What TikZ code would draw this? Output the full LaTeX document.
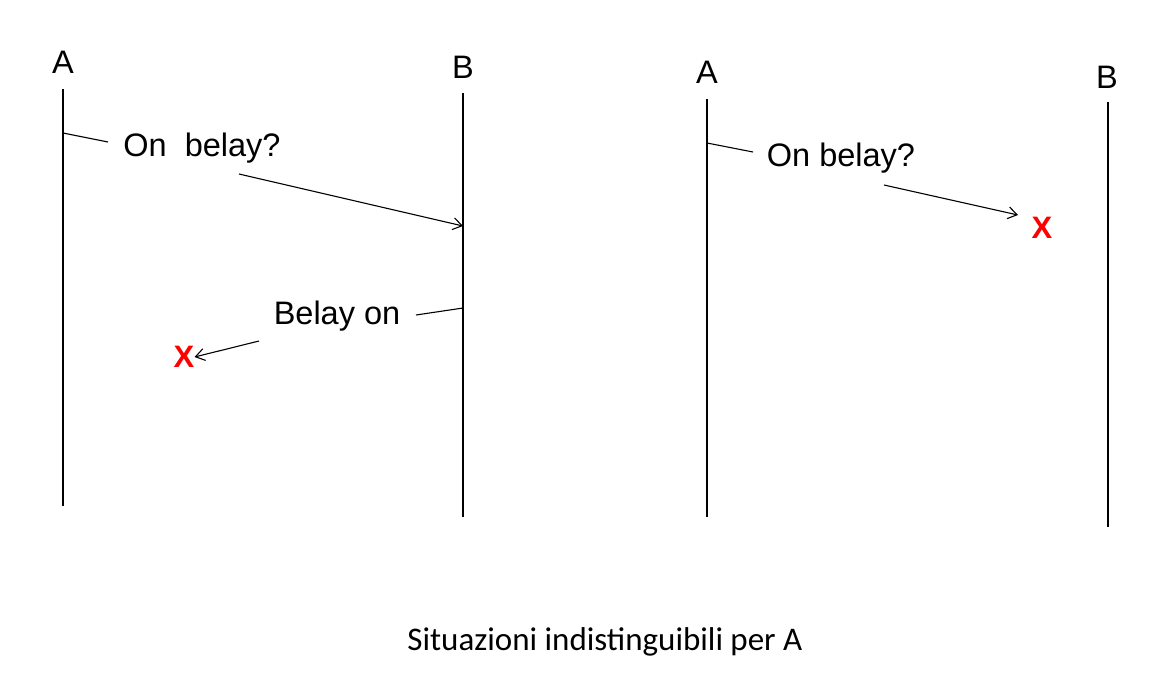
\documentclass[tikz,border=0pt]{standalone}
\usepackage{fontspec}
\setmainfont{Liberation Sans}
\newfontfamily\capfont{Carlito}
\usetikzlibrary{arrows.meta}
\begin{document}
\begin{tikzpicture}[x=1pt,y=-1pt,
  lbl/.style={inner sep=0pt,font=\fontsize{32.5}{36}\selectfont},
  msg/.style={inner sep=0pt,font=\fontsize{32.5}{36}\selectfont},
  lost/.style={inner sep=0pt,text=red,font=\fontsize{31}{34}\selectfont\bfseries},
  life/.style={line width=1.3pt},
  seg/.style={line width=1.1pt},
  arr/.style={line width=1.1pt,-{Straight Barb[length=9pt,width=12pt,line width=1.1pt]}}]
\useasboundingbox[fill=white] (0,0) rectangle (1153,681);
% left scenario
\node[lbl] (A1) at (63,62) {A};
\node[lbl] (B1) at (463,67) {B};
\coordinate (A1t) at (63,89); \coordinate (A1b) at (63,506);
\coordinate (B1t) at (463,93); \coordinate (B1b) at (463,517);
\draw[life] (A1t) -- (A1b);
\draw[life] (B1t) -- (B1b);
\node[msg] (m1) at (202,148) {On\ \ belay?};
\coordinate (s1) at (63,133); \coordinate (e1) at (108,142);
\draw[seg] (s1) -- (e1);
\coordinate (p1) at (239,174); \coordinate (q1) at (463,226);
\draw[arr] (p1) -- (q1);
\node[msg] (m2) at (337,316) {Belay on};
\coordinate (s2) at (463,308); \coordinate (e2) at (416,315);
\draw[seg] (s2) -- (e2);
\node[lost] (x1) at (184,357) {X};
\coordinate (p2) at (259,341);
\draw[arr] (p2) -- (x1.east);
% right scenario
\node[lbl] (A2) at (707,72) {A};
\node[lbl] (B2) at (1107,77) {B};
\coordinate (A2t) at (707,99); \coordinate (A2b) at (707,517);
\coordinate (B2t) at (1108,102); \coordinate (B2b) at (1108,527);
\draw[life] (A2t) -- (A2b);
\draw[life] (B2t) -- (B2b);
\node[msg] (m3) at (841,158) {On belay?};
\coordinate (s3) at (707,143); \coordinate (e3) at (753,152);
\draw[seg] (s3) -- (e3);
\node[lost] (x2) at (1042,228) {X};
\coordinate (p3) at (884,185); \coordinate (q3) at (1018,215);
\draw[arr] (p3) -- (q3);
% caption
\node[inner sep=0pt,font=\capfont\fontsize{33}{36}\selectfont] (cap) at (605,642) {Situazioni indistinguibili per A};
\end{tikzpicture}
\end{document}
